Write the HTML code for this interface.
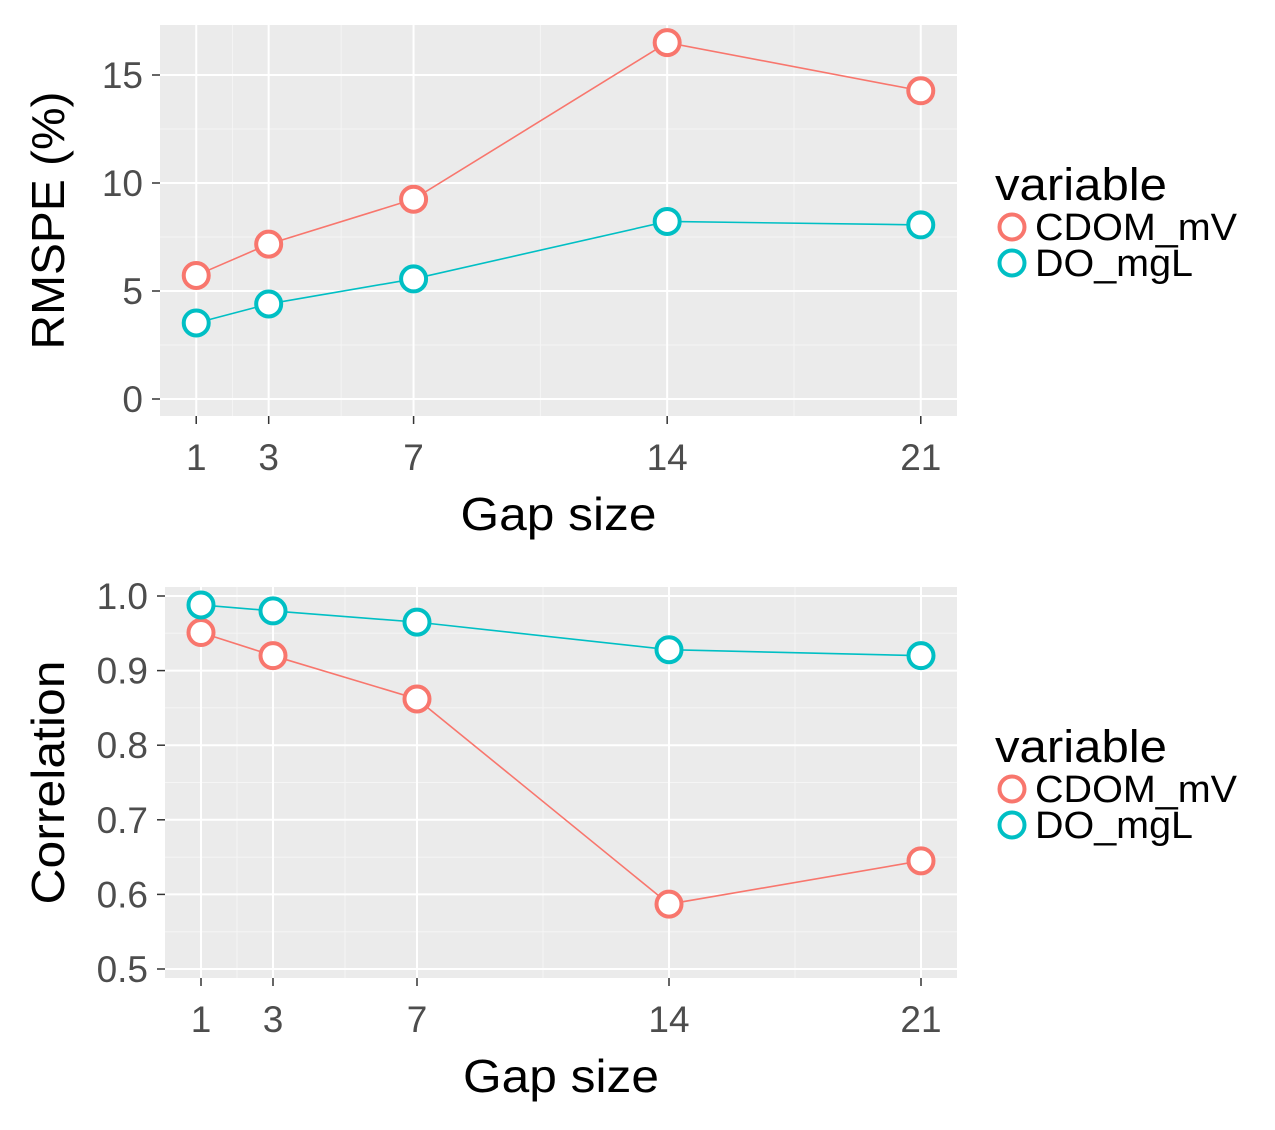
<!DOCTYPE html>
<html><head><meta charset="utf-8"><style>
body{margin:0;background:#fff;}
svg text{font-family:"Liberation Sans",Arial,sans-serif;}
</style></head><body>
<svg id="chart" width="1275" height="1125" viewBox="0 0 1275 1125" xmlns="http://www.w3.org/2000/svg"></svg>
<script>
const categories=[1,3,7,14,21];
const xTickLabels=["1","3","7","14","21"];
const rmspeCDOM=[5.72,7.17,9.25,16.5,14.27];
const rmspeDO=[3.52,4.4,5.56,8.22,8.06];
const corrCDOM=[0.951,0.92,0.862,0.587,0.645];
const corrDO=[0.988,0.98,0.965,0.928,0.92];
const rmspeTicks=[0,5,10,15];
const rmspeTickLabels=["0","5","10","15"];
const corrTicks=[0.5,0.6,0.7,0.8,0.9,1.0];
const corrTickLabels=["0.5","0.6","0.7","0.8","0.9","1.0"];
const seriesNames=["CDOM_mV","DO_mgL"];
const colors=["#F8766D","#00BFC4"];

const svg=document.getElementById('chart');
const NS="http://www.w3.org/2000/svg";
function mk(tag,attrs,parent){const e=document.createElementNS(NS,tag);for(const k in attrs)e.setAttribute(k,attrs[k]);(parent||svg).appendChild(e);return e;}

function panel(cfg){
  const g=mk('g',{});
  
  
  const {L,R,T,B,xmin,xmax,ymin,ymax}=cfg;
  const sx=v=>L+(v-xmin)/(xmax-xmin)*(R-L);
  const sy=v=>B-(v-ymin)/(ymax-ymin)*(B-T);
  const bg=mk('rect',{x:L,y:T,width:R-L,height:B-T,fill:'#EBEBEB'},g);
  
  
  for(let i=0;i<cfg.yticks.length-1;i++){const m=(cfg.yticks[i]+cfg.yticks[i+1])/2;mk('line',{x1:L,x2:R,y1:sy(m),y2:sy(m),stroke:'#F5F5F5','stroke-width':1},g);}
  for(let i=0;i<categories.length-1;i++){const m=(categories[i]+categories[i+1])/2;mk('line',{y1:T,y2:B,x1:sx(m),x2:sx(m),stroke:'#F5F5F5','stroke-width':1},g);}
  cfg.yticks.forEach((t,i)=>{
    mk('line',{x1:L,x2:R,y1:sy(t),y2:sy(t),stroke:'#fff','stroke-width':2},g);
    mk('line',{x1:L-8,x2:L,y1:sy(t),y2:sy(t),stroke:'#333','stroke-width':1.5},g);
    const tx=mk('text',{x:L-17,y:sy(t)+13,'text-anchor':'end','font-size':37,fill:'#4D4D4D'},g);
    tx.textContent=cfg.ylabels[i];
    
    
  });
  categories.forEach((c,i)=>{
    mk('line',{y1:T,y2:B,x1:sx(c),x2:sx(c),stroke:'#fff','stroke-width':2},g);
    mk('line',{y1:B,y2:B+8,x1:sx(c),x2:sx(c),stroke:'#333','stroke-width':1.5},g);
    const tx=mk('text',{x:sx(c),y:B+54,'text-anchor':'middle','font-size':37,fill:'#4D4D4D'},g);
    tx.textContent=xTickLabels[i];
    
    
  });
  cfg.series.forEach((s,si)=>{
    const pts=categories.map((c,i)=>sx(c)+','+sy(s[i])).join(' ');
    const pl=mk('polyline',{points:pts,fill:'none',stroke:colors[si],'stroke-width':1.6},g);
    
    
  });
  cfg.series.forEach((s,si)=>{
    categories.forEach((c,i)=>{
      const p=mk('circle',{cx:sx(c),cy:sy(s[i]),r:12.5,fill:'#fff',stroke:colors[si],'stroke-width':4},g);
      
      
    });
  });
  const xt=mk('text',{x:(L+R)/2,y:cfg.xtitleY,'text-anchor':'middle','font-size':46,fill:'#000',textLength:196,lengthAdjust:'spacingAndGlyphs'},g);
  xt.textContent='Gap size';
  
  
  const cy=(T+B)/2;
  const yt=mk('text',{x:64,y:cy,'text-anchor':'middle','font-size':46,fill:'#000',textLength:cfg.ytitleLen,lengthAdjust:'spacingAndGlyphs',transform:`rotate(-90 64 ${cy})`},g);
  yt.textContent=cfg.ytitle;
  
  
  const lg=mk('g',{},g);
  
  
  const lt=mk('text',{x:995,y:cfg.legY,'font-size':45,fill:'#000',textLength:172,lengthAdjust:'spacingAndGlyphs'},lg);
  lt.textContent='variable';
  
  
  const lens=[202,158];
  seriesNames.forEach((n,i)=>{
    const cyy=cfg.legY+27+i*36;
    const c=mk('circle',{cx:1012,cy:cyy,r:12.5,fill:'#fff',stroke:colors[i],'stroke-width':4},lg);
    
    
    const t=mk('text',{x:1035,y:cyy+13,'font-size':38,fill:'#000',textLength:lens[i],lengthAdjust:'spacingAndGlyphs'},lg);
    t.textContent=n;
    
    
  });
}
panel({name:'rmspe-panel',L:160,R:957,T:25,B:416,xmin:0,xmax:22,ymin:-17/21.6,ymax:374/21.6,
  yticks:rmspeTicks,ylabels:rmspeTickLabels,series:[rmspeCDOM,rmspeDO],ytitle:'RMSPE (%)',ytitleLen:258,xtitleY:530,legY:200});
panel({name:'correlation-panel',L:165,R:957,T:587,B:978,xmin:0,xmax:22,ymin:0.5-9/746,ymax:1+9/746,
  yticks:corrTicks,ylabels:corrTickLabels,series:[corrCDOM,corrDO],ytitle:'Correlation',ytitleLen:244,xtitleY:1092,legY:762});
</script>
</body></html>
